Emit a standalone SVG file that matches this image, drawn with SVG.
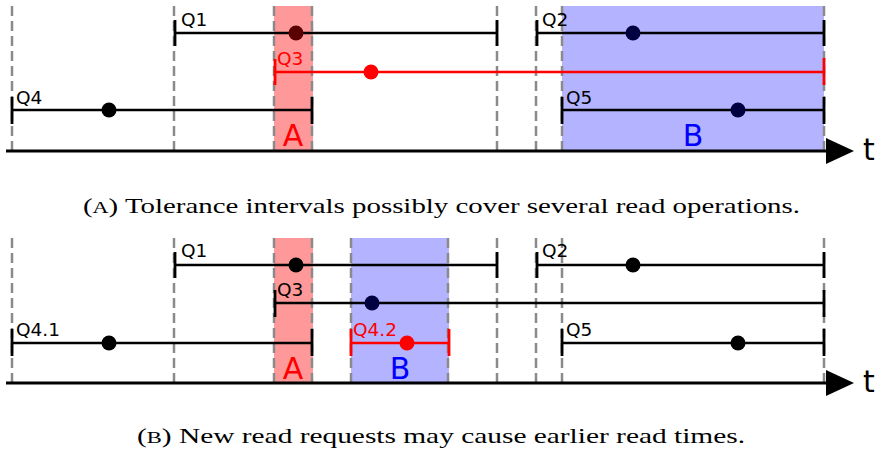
<svg xmlns="http://www.w3.org/2000/svg" width="878" height="456" viewBox="0 0 878 456">
  <style>
    .guide { stroke: #8a8a8a; stroke-width: 2.5; stroke-dasharray: 10 5; fill: none; }
    .iv { stroke: #000; stroke-width: 2.4; fill: none; }
    .iv-red { stroke: #ff0000; stroke-width: 2.4; fill: none; }
    .tick { stroke: #000; stroke-width: 2.8; }
    .tick-red { stroke: #ff0000; stroke-width: 2.8; }
    .axis { stroke: #000; stroke-width: 2.8; }
    .lbl { font-family: "DejaVu Sans", sans-serif; font-size: 18.5px; fill: #000; }
    .lbl-red { font-family: "DejaVu Sans", sans-serif; font-size: 18.5px; fill: #ff0000; }
    .zone { font-family: "DejaVu Sans", sans-serif; font-size: 30px; text-anchor: middle; }
    .tlabel { font-family: "DejaVu Sans", sans-serif; font-size: 30px; fill: #000; }
    .cap { font-family: "Liberation Serif", "DejaVu Serif", serif; font-size: 21.5px; fill: #000; }
  </style>

  <!-- Panel (a) -->
  <g id="panel-a">
    <g id="a-zones">
      <rect x="274" y="6" width="39" height="145" fill="#ff9999"/>
      <rect x="562" y="6" width="262" height="145" fill="#b3b3ff"/>
    </g>
    <g id="a-guides">
      <line class="guide" x1="12" y1="6" x2="12" y2="150"/>
      <line class="guide" x1="174" y1="6" x2="174" y2="150"/>
      <line class="guide" x1="274" y1="6" x2="274" y2="150"/>
      <line class="guide" x1="312" y1="6" x2="312" y2="150"/>
      <line class="guide" x1="497" y1="6" x2="497" y2="150"/>
      <line class="guide" x1="536" y1="6" x2="536" y2="150"/>
      <line class="guide" x1="562" y1="6" x2="562" y2="150"/>
      <line class="guide" x1="824" y1="6" x2="824" y2="150"/>
    </g>
    <g id="a-Q1">
      <line class="iv" x1="175" y1="33" x2="497" y2="33"/>
      <line class="tick" x1="175" y1="20" x2="175" y2="46"/>
      <line class="tick" x1="497" y1="20" x2="497" y2="46"/>
      <circle cx="296" cy="33" r="7.5" fill="#5a0000"/>
      <text class="lbl" x="181" y="26">Q1</text>
    </g>
    <g id="a-Q2">
      <line class="iv" x1="537" y1="33" x2="824" y2="33"/>
      <line class="tick" x1="537" y1="20" x2="537" y2="46"/>
      <line class="tick" x1="824" y1="20" x2="824" y2="46"/>
      <circle cx="633" cy="33" r="7.5" fill="#000040"/>
      <text class="lbl" x="542" y="26">Q2</text>
    </g>
    <g id="a-Q3">
      <line class="iv-red" x1="275" y1="72" x2="824" y2="72"/>
      <line class="tick-red" x1="275" y1="59" x2="275" y2="85"/>
      <line class="tick-red" x1="824" y1="58" x2="824" y2="85"/>
      <circle cx="371" cy="72" r="7.5" fill="#ff0000"/>
      <text class="lbl-red" x="277" y="65">Q3</text>
    </g>
    <g id="a-Q4">
      <line class="iv" x1="12" y1="110" x2="312" y2="110"/>
      <line class="tick" x1="12" y1="97" x2="12" y2="124"/>
      <line class="tick" x1="312" y1="97" x2="312" y2="124"/>
      <circle cx="109" cy="110" r="7.5" fill="#000"/>
      <text class="lbl" x="16" y="104">Q4</text>
    </g>
    <g id="a-Q5">
      <line class="iv" x1="562" y1="110" x2="824" y2="110"/>
      <line class="tick" x1="562" y1="97" x2="562" y2="124"/>
      <line class="tick" x1="824" y1="97" x2="824" y2="124"/>
      <circle cx="738" cy="110" r="7.5" fill="#000040"/>
      <text class="lbl" x="566" y="104">Q5</text>
    </g>
    <text class="zone" x="293" y="146" fill="#ff0000">A</text>
    <text class="zone" x="693" y="146" fill="#0000ff">B</text>
    <g id="a-axis">
      <line class="axis" x1="6" y1="151" x2="830" y2="151"/>
      <polygon points="826,138 854,151 826,164" fill="#000"/>
      <text class="tlabel" x="863" y="160">t</text>
    </g>
    <text class="cap" x="83" y="213" textLength="717" lengthAdjust="spacingAndGlyphs">(<tspan font-size="16.5">A</tspan>) Tolerance intervals possibly cover several read operations.</text>
  </g>

  <!-- Panel (b) -->
  <g id="panel-b">
    <g id="b-zones">
      <rect x="274" y="238" width="39" height="145" fill="#ff9999"/>
      <rect x="351" y="238" width="98" height="145" fill="#b3b3ff"/>
    </g>
    <g id="b-guides">
      <line class="guide" x1="12" y1="238" x2="12" y2="382"/>
      <line class="guide" x1="174" y1="238" x2="174" y2="382"/>
      <line class="guide" x1="274" y1="238" x2="274" y2="382"/>
      <line class="guide" x1="312" y1="238" x2="312" y2="382"/>
      <line class="guide" x1="351" y1="238" x2="351" y2="382"/>
      <line class="guide" x1="448" y1="238" x2="448" y2="382"/>
      <line class="guide" x1="497" y1="238" x2="497" y2="382"/>
      <line class="guide" x1="536" y1="238" x2="536" y2="382"/>
      <line class="guide" x1="562" y1="238" x2="562" y2="382"/>
      <line class="guide" x1="824" y1="238" x2="824" y2="382"/>
    </g>
    <g id="b-Q1">
      <line class="iv" x1="175" y1="265" x2="497" y2="265"/>
      <line class="tick" x1="175" y1="252" x2="175" y2="278"/>
      <line class="tick" x1="497" y1="252" x2="497" y2="278"/>
      <circle cx="296" cy="265" r="7.5" fill="#000"/>
      <text class="lbl" x="181" y="257">Q1</text>
    </g>
    <g id="b-Q2">
      <line class="iv" x1="537" y1="265" x2="824" y2="265"/>
      <line class="tick" x1="537" y1="252" x2="537" y2="278"/>
      <line class="tick" x1="824" y1="252" x2="824" y2="278"/>
      <circle cx="633" cy="265" r="7.5" fill="#000"/>
      <text class="lbl" x="542" y="257">Q2</text>
    </g>
    <g id="b-Q3">
      <line class="iv" x1="275" y1="303" x2="824" y2="303"/>
      <line class="tick" x1="275" y1="290" x2="275" y2="317"/>
      <line class="tick" x1="824" y1="290" x2="824" y2="317"/>
      <circle cx="372" cy="303" r="7.5" fill="#000040"/>
      <text class="lbl" x="277" y="296">Q3</text>
    </g>
    <g id="b-Q4-1">
      <line class="iv" x1="12" y1="343" x2="312" y2="343"/>
      <line class="tick" x1="12" y1="329" x2="12" y2="356"/>
      <line class="tick" x1="312" y1="329" x2="312" y2="356"/>
      <circle cx="109" cy="343" r="7.5" fill="#000"/>
      <text class="lbl" x="16" y="336">Q4.1</text>
    </g>
    <g id="b-Q4-2">
      <line class="iv-red" x1="351" y1="343" x2="449" y2="343"/>
      <line class="tick-red" x1="351" y1="329" x2="351" y2="356"/>
      <line class="tick-red" x1="449" y1="329" x2="449" y2="356"/>
      <circle cx="407" cy="343" r="7.5" fill="#ff0000"/>
      <text class="lbl-red" x="353" y="336">Q4.2</text>
    </g>
    <g id="b-Q5">
      <line class="iv" x1="562" y1="343" x2="824" y2="343"/>
      <line class="tick" x1="562" y1="329" x2="562" y2="356"/>
      <line class="tick" x1="824" y1="329" x2="824" y2="356"/>
      <circle cx="738" cy="343" r="7.5" fill="#000"/>
      <text class="lbl" x="566" y="336">Q5</text>
    </g>
    <text class="zone" x="293" y="379" fill="#ff0000">A</text>
    <text class="zone" x="400" y="379" fill="#0000ff">B</text>
    <g id="b-axis">
      <line class="axis" x1="6" y1="383" x2="830" y2="383"/>
      <polygon points="826,370 854,383 826,396" fill="#000"/>
      <text class="tlabel" x="863" y="392">t</text>
    </g>
    <text class="cap" x="137" y="443" textLength="608" lengthAdjust="spacingAndGlyphs">(<tspan font-size="16.5">B</tspan>) New read requests may cause earlier read times.</text>
  </g>
</svg>
